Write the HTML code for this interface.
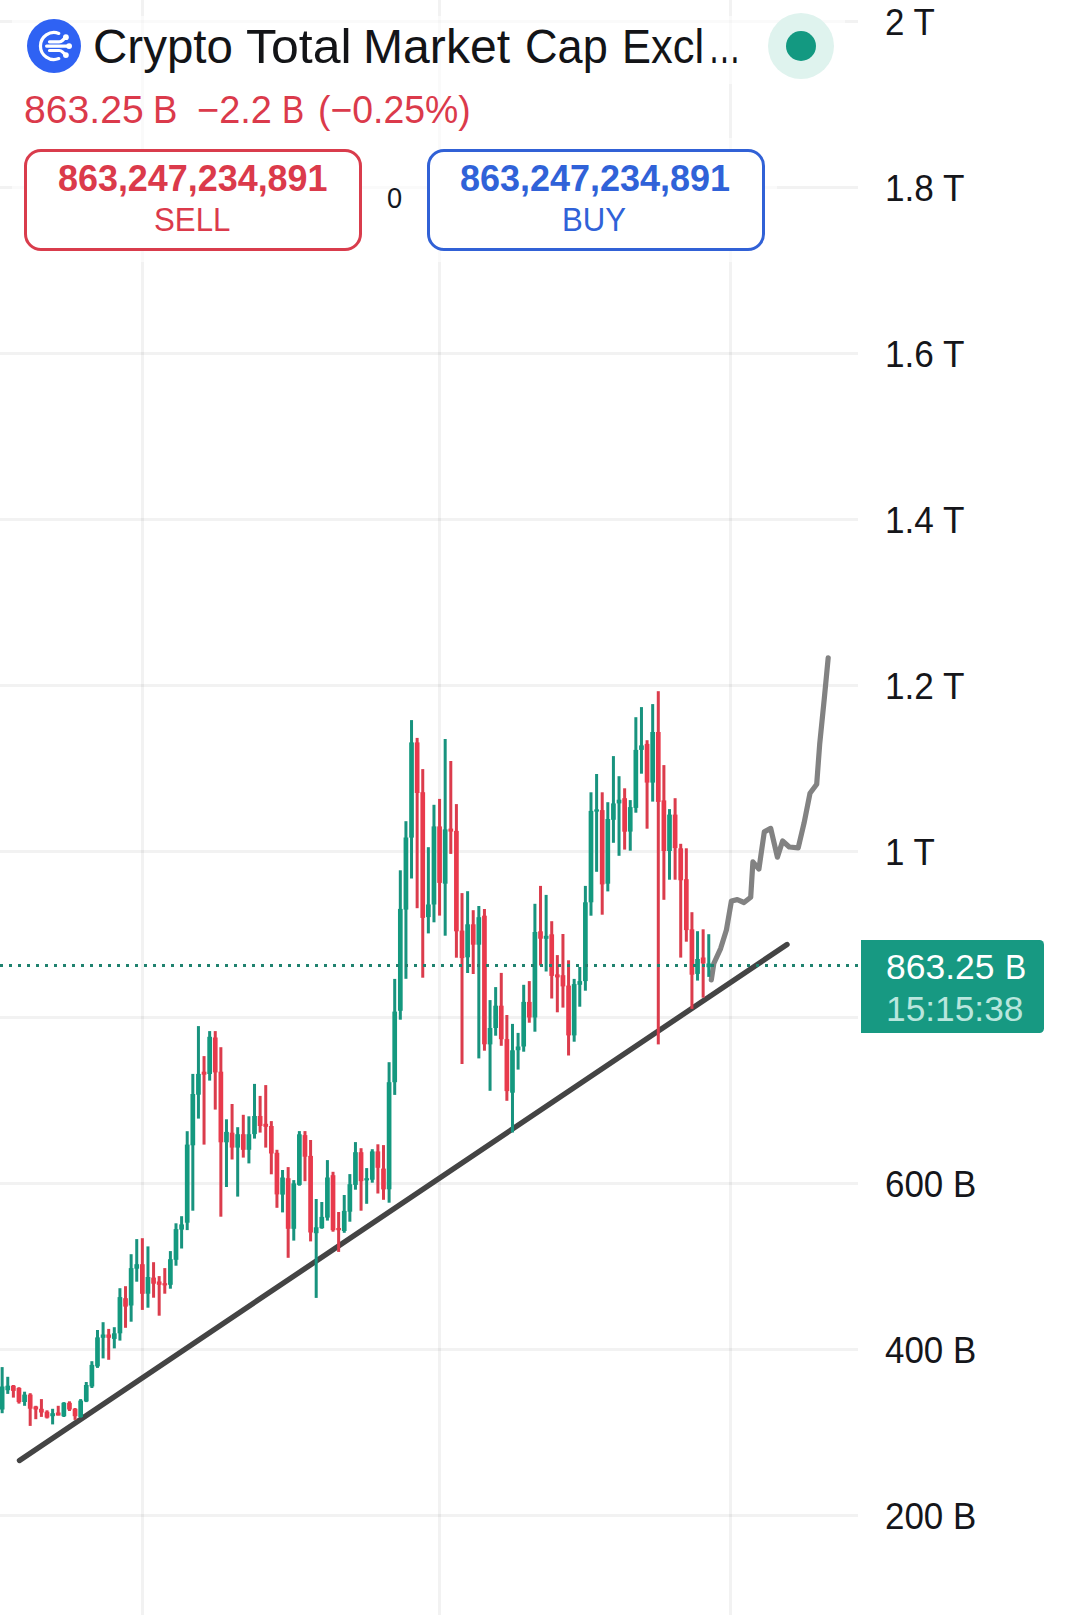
<!DOCTYPE html>
<html><head><meta charset="utf-8"><title>Crypto Total Market Cap</title>
<style>
html,body{margin:0;padding:0;background:#fff;}
body{width:1076px;height:1615px;position:relative;overflow:hidden;font-family:"Liberation Sans",sans-serif;color:#131722;}
svg.chart{position:absolute;left:0;top:0;}
.t{position:absolute;display:block;white-space:nowrap;line-height:1;}
.btn{position:absolute;top:149px;height:102px;width:338px;border:3px solid;border-radius:17px;box-sizing:border-box;background:#fff;}
.sell{left:24px;border-color:#d93c4c;}
.buy{left:427px;border-color:#3161d6;}
.ov{position:absolute;background:rgba(255,255,255,0.6);}
.plabel{position:absolute;left:861px;top:939.7px;width:182.8px;height:93.1px;background:#179982;border-radius:0 4.5px 4.5px 0;}
.dotc{position:absolute;left:768.3px;top:12.5px;width:66px;height:66px;border-radius:50%;background:#dff3ee;}
.dotc i{position:absolute;left:18px;top:18.4px;width:30px;height:30px;border-radius:50%;background:#139981;}
</style></head><body>
<svg class="chart" width="1076" height="1615" viewBox="0 0 1076 1615">
<rect x="0" y="20.0" width="858" height="3" fill="#000" fill-opacity="0.05"/>
<rect x="0" y="186.0" width="858" height="3" fill="#000" fill-opacity="0.05"/>
<rect x="0" y="352.0" width="858" height="3" fill="#000" fill-opacity="0.05"/>
<rect x="0" y="518.0" width="858" height="3" fill="#000" fill-opacity="0.05"/>
<rect x="0" y="684.0" width="858" height="3" fill="#000" fill-opacity="0.05"/>
<rect x="0" y="850.0" width="858" height="3" fill="#000" fill-opacity="0.05"/>
<rect x="0" y="1016.0" width="858" height="3" fill="#000" fill-opacity="0.05"/>
<rect x="0" y="1182.0" width="858" height="3" fill="#000" fill-opacity="0.05"/>
<rect x="0" y="1348.0" width="858" height="3" fill="#000" fill-opacity="0.05"/>
<rect x="0" y="1514.0" width="858" height="3" fill="#000" fill-opacity="0.05"/>
<rect x="141.0" y="0" width="3" height="1615" fill="#000" fill-opacity="0.05"/>
<rect x="438.0" y="0" width="3" height="1615" fill="#000" fill-opacity="0.05"/>
<rect x="729.0" y="0" width="3" height="1615" fill="#000" fill-opacity="0.05"/>

<line x1="19.5" y1="1460.5" x2="787" y2="944.5" stroke="#444444" stroke-width="5.4" stroke-linecap="round"/>
<path d="M711.3,979.9 L713.8,963.5 L720.6,948.6 L726.4,930 L731.4,901 L737.3,899.6 L744,902.5 L750.7,897.3 L752.9,861.9 L758.9,869.1 L764.3,831.9 L770.7,828.4 L777.4,857.2 L782.6,841 L789.3,847 L798.2,847.8 L804.1,822.9 L810,793.2 L816.7,784.2 L819.7,744.1 L824.2,699.5 L828.2,657.8" fill="none" stroke="#828282" stroke-width="5.2" stroke-linecap="round" stroke-linejoin="round"/>
<g>
<rect x="0.65" y="1367.1" width="3.0" height="46.1" fill="#18937e"/>
<rect x="6.26" y="1376.8" width="3.0" height="17.1" fill="#18937e"/>
<rect x="11.87" y="1385.0" width="3.0" height="12.6" fill="#db3c4c"/>
<rect x="17.47" y="1387.2" width="3.0" height="16.4" fill="#db3c4c"/>
<rect x="23.08" y="1391.7" width="3.0" height="14.1" fill="#18937e"/>
<rect x="28.69" y="1393.2" width="3.0" height="32.7" fill="#db3c4c"/>
<rect x="34.30" y="1405.8" width="3.0" height="13.4" fill="#db3c4c"/>
<rect x="39.91" y="1399.1" width="3.0" height="17.8" fill="#db3c4c"/>
<rect x="45.51" y="1410.3" width="3.0" height="8.2" fill="#db3c4c"/>
<rect x="51.12" y="1408.8" width="3.0" height="15.6" fill="#18937e"/>
<rect x="56.73" y="1405.8" width="3.0" height="9.7" fill="#db3c4c"/>
<rect x="62.34" y="1402.1" width="3.0" height="14.9" fill="#18937e"/>
<rect x="67.95" y="1401.3" width="3.0" height="9.7" fill="#db3c4c"/>
<rect x="73.55" y="1408.0" width="3.0" height="11.9" fill="#db3c4c"/>
<rect x="79.16" y="1399.1" width="3.0" height="18.6" fill="#18937e"/>
<rect x="84.77" y="1382.0" width="3.0" height="20.1" fill="#18937e"/>
<rect x="90.38" y="1361.2" width="3.0" height="26.8" fill="#18937e"/>
<rect x="95.99" y="1330.0" width="3.0" height="37.9" fill="#18937e"/>
<rect x="101.59" y="1322.2" width="3.0" height="36.2" fill="#18937e"/>
<rect x="107.20" y="1328.9" width="3.0" height="30.9" fill="#db3c4c"/>
<rect x="112.81" y="1327.2" width="3.0" height="21.2" fill="#18937e"/>
<rect x="118.42" y="1288.2" width="3.0" height="52.4" fill="#18937e"/>
<rect x="124.03" y="1286.2" width="3.0" height="41.6" fill="#db3c4c"/>
<rect x="129.63" y="1254.2" width="3.0" height="67.5" fill="#18937e"/>
<rect x="135.24" y="1239.1" width="3.0" height="42.6" fill="#18937e"/>
<rect x="140.85" y="1238.2" width="3.0" height="71.7" fill="#db3c4c"/>
<rect x="146.46" y="1246.4" width="3.0" height="61.3" fill="#18937e"/>
<rect x="152.07" y="1262.2" width="3.0" height="35.5" fill="#db3c4c"/>
<rect x="157.67" y="1276.1" width="3.0" height="39.6" fill="#db3c4c"/>
<rect x="163.28" y="1268.1" width="3.0" height="25.6" fill="#db3c4c"/>
<rect x="168.89" y="1251.1" width="3.0" height="37.6" fill="#18937e"/>
<rect x="174.50" y="1223.3" width="3.0" height="42.4" fill="#18937e"/>
<rect x="180.11" y="1216.2" width="3.0" height="32.3" fill="#18937e"/>
<rect x="185.71" y="1131.2" width="3.0" height="98.9" fill="#18937e"/>
<rect x="191.32" y="1073.9" width="3.0" height="136.8" fill="#18937e"/>
<rect x="196.93" y="1026.1" width="3.0" height="92.5" fill="#18937e"/>
<rect x="202.54" y="1056.1" width="3.0" height="88.5" fill="#db3c4c"/>
<rect x="208.15" y="1031.1" width="3.0" height="49.5" fill="#18937e"/>
<rect x="213.75" y="1031.1" width="3.0" height="78.5" fill="#db3c4c"/>
<rect x="219.36" y="1047.2" width="3.0" height="169.5" fill="#db3c4c"/>
<rect x="224.97" y="1119.3" width="3.0" height="67.7" fill="#18937e"/>
<rect x="230.58" y="1104.0" width="3.0" height="55.5" fill="#db3c4c"/>
<rect x="236.19" y="1127.2" width="3.0" height="69.4" fill="#18937e"/>
<rect x="241.79" y="1114.8" width="3.0" height="42.8" fill="#db3c4c"/>
<rect x="247.40" y="1116.3" width="3.0" height="47.1" fill="#18937e"/>
<rect x="253.01" y="1083.9" width="3.0" height="54.7" fill="#18937e"/>
<rect x="258.62" y="1095.9" width="3.0" height="36.7" fill="#db3c4c"/>
<rect x="264.23" y="1085.1" width="3.0" height="62.5" fill="#db3c4c"/>
<rect x="269.83" y="1121.1" width="3.0" height="53.2" fill="#db3c4c"/>
<rect x="275.44" y="1149.8" width="3.0" height="58.0" fill="#db3c4c"/>
<rect x="281.05" y="1170.0" width="3.0" height="42.4" fill="#18937e"/>
<rect x="286.66" y="1167.1" width="3.0" height="90.7" fill="#db3c4c"/>
<rect x="292.27" y="1180.1" width="3.0" height="60.5" fill="#18937e"/>
<rect x="297.87" y="1131.1" width="3.0" height="54.6" fill="#18937e"/>
<rect x="303.48" y="1131.1" width="3.0" height="50.1" fill="#db3c4c"/>
<rect x="309.09" y="1140.0" width="3.0" height="101.4" fill="#db3c4c"/>
<rect x="314.70" y="1199.0" width="3.0" height="98.9" fill="#18937e"/>
<rect x="320.31" y="1202.0" width="3.0" height="26.8" fill="#18937e"/>
<rect x="325.91" y="1160.1" width="3.0" height="60.5" fill="#18937e"/>
<rect x="331.52" y="1171.8" width="3.0" height="59.9" fill="#db3c4c"/>
<rect x="337.13" y="1212.0" width="3.0" height="39.9" fill="#db3c4c"/>
<rect x="342.74" y="1195.0" width="3.0" height="37.8" fill="#18937e"/>
<rect x="348.35" y="1174.1" width="3.0" height="47.6" fill="#18937e"/>
<rect x="353.95" y="1142.1" width="3.0" height="47.6" fill="#18937e"/>
<rect x="359.56" y="1148.2" width="3.0" height="62.5" fill="#db3c4c"/>
<rect x="365.17" y="1168.1" width="3.0" height="35.7" fill="#18937e"/>
<rect x="370.78" y="1149.2" width="3.0" height="33.5" fill="#18937e"/>
<rect x="376.39" y="1144.3" width="3.0" height="49.2" fill="#db3c4c"/>
<rect x="381.99" y="1145.1" width="3.0" height="54.7" fill="#db3c4c"/>
<rect x="387.60" y="1062.2" width="3.0" height="140.5" fill="#18937e"/>
<rect x="393.21" y="978.9" width="3.0" height="116.0" fill="#18937e"/>
<rect x="398.82" y="870.3" width="3.0" height="149.4" fill="#18937e"/>
<rect x="404.43" y="821.2" width="3.0" height="157.6" fill="#18937e"/>
<rect x="410.03" y="720.1" width="3.0" height="158.4" fill="#18937e"/>
<rect x="415.64" y="737.9" width="3.0" height="170.3" fill="#db3c4c"/>
<rect x="421.25" y="769.1" width="3.0" height="208.6" fill="#db3c4c"/>
<rect x="426.86" y="847.2" width="3.0" height="86.2" fill="#18937e"/>
<rect x="432.47" y="804.8" width="3.0" height="117.5" fill="#18937e"/>
<rect x="438.07" y="798.9" width="3.0" height="116.7" fill="#db3c4c"/>
<rect x="443.68" y="739.0" width="3.0" height="196.7" fill="#18937e"/>
<rect x="449.29" y="761.0" width="3.0" height="92.9" fill="#db3c4c"/>
<rect x="454.90" y="804.1" width="3.0" height="153.6" fill="#db3c4c"/>
<rect x="460.51" y="893.1" width="3.0" height="170.9" fill="#db3c4c"/>
<rect x="466.11" y="891.2" width="3.0" height="81.8" fill="#18937e"/>
<rect x="471.72" y="910.2" width="3.0" height="63.8" fill="#db3c4c"/>
<rect x="477.33" y="906.0" width="3.0" height="152.4" fill="#18937e"/>
<rect x="482.94" y="909.0" width="3.0" height="141.7" fill="#db3c4c"/>
<rect x="488.55" y="1000.1" width="3.0" height="90.7" fill="#18937e"/>
<rect x="494.15" y="987.1" width="3.0" height="48.6" fill="#18937e"/>
<rect x="499.76" y="972.9" width="3.0" height="72.9" fill="#db3c4c"/>
<rect x="505.37" y="1015.0" width="3.0" height="85.8" fill="#db3c4c"/>
<rect x="510.98" y="1023.9" width="3.0" height="108.6" fill="#18937e"/>
<rect x="516.59" y="1032.9" width="3.0" height="36.7" fill="#18937e"/>
<rect x="522.19" y="984.8" width="3.0" height="66.9" fill="#18937e"/>
<rect x="527.80" y="981.1" width="3.0" height="41.6" fill="#db3c4c"/>
<rect x="533.41" y="903.8" width="3.0" height="127.9" fill="#18937e"/>
<rect x="539.02" y="885.9" width="3.0" height="79.6" fill="#db3c4c"/>
<rect x="544.63" y="894.9" width="3.0" height="76.6" fill="#18937e"/>
<rect x="550.23" y="921.2" width="3.0" height="77.3" fill="#db3c4c"/>
<rect x="555.84" y="955.1" width="3.0" height="57.2" fill="#db3c4c"/>
<rect x="561.45" y="934.0" width="3.0" height="73.6" fill="#db3c4c"/>
<rect x="567.06" y="960.3" width="3.0" height="95.2" fill="#db3c4c"/>
<rect x="572.67" y="978.9" width="3.0" height="62.8" fill="#18937e"/>
<rect x="578.27" y="967.0" width="3.0" height="39.7" fill="#18937e"/>
<rect x="583.88" y="885.9" width="3.0" height="104.8" fill="#18937e"/>
<rect x="589.49" y="792.3" width="3.0" height="123.4" fill="#18937e"/>
<rect x="595.10" y="774.0" width="3.0" height="97.8" fill="#18937e"/>
<rect x="600.71" y="792.3" width="3.0" height="122.4" fill="#db3c4c"/>
<rect x="606.31" y="802.2" width="3.0" height="89.2" fill="#18937e"/>
<rect x="611.92" y="756.1" width="3.0" height="86.7" fill="#18937e"/>
<rect x="617.53" y="776.2" width="3.0" height="79.6" fill="#18937e"/>
<rect x="623.14" y="788.3" width="3.0" height="61.3" fill="#db3c4c"/>
<rect x="628.75" y="800.1" width="3.0" height="50.6" fill="#18937e"/>
<rect x="634.35" y="717.2" width="3.0" height="95.5" fill="#18937e"/>
<rect x="639.96" y="707.1" width="3.0" height="66.6" fill="#18937e"/>
<rect x="645.57" y="740.2" width="3.0" height="88.5" fill="#db3c4c"/>
<rect x="651.18" y="704.1" width="3.0" height="97.5" fill="#18937e"/>
<rect x="656.79" y="691.2" width="3.0" height="353.2" fill="#db3c4c"/>
<rect x="662.39" y="765.1" width="3.0" height="134.7" fill="#db3c4c"/>
<rect x="668.00" y="809.1" width="3.0" height="70.6" fill="#18937e"/>
<rect x="673.61" y="798.2" width="3.0" height="81.5" fill="#db3c4c"/>
<rect x="679.22" y="843.8" width="3.0" height="113.8" fill="#db3c4c"/>
<rect x="684.83" y="848.3" width="3.0" height="93.4" fill="#db3c4c"/>
<rect x="690.43" y="912.2" width="3.0" height="96.7" fill="#db3c4c"/>
<rect x="696.04" y="931.2" width="3.0" height="49.4" fill="#18937e"/>
<rect x="701.65" y="929.3" width="3.0" height="68.4" fill="#db3c4c"/>
<rect x="707.26" y="934.2" width="3.0" height="42.7" fill="#18937e"/>
<rect x="-0.20" y="1386.5" width="4.7" height="23.0" fill="#14997f"/>
<rect x="5.41" y="1385.7" width="4.7" height="4.5" fill="#14997f"/>
<rect x="11.02" y="1385.7" width="4.7" height="5.2" fill="#e83a4c"/>
<rect x="16.62" y="1388.0" width="4.7" height="14.1" fill="#e83a4c"/>
<rect x="22.23" y="1394.6" width="4.7" height="7.4" fill="#14997f"/>
<rect x="27.84" y="1394.6" width="4.7" height="14.1" fill="#e83a4c"/>
<rect x="33.45" y="1406.5" width="4.7" height="3.0" fill="#e83a4c"/>
<rect x="39.06" y="1408.8" width="4.7" height="3.7" fill="#e83a4c"/>
<rect x="44.66" y="1411.7" width="4.7" height="5.9" fill="#e83a4c"/>
<rect x="50.27" y="1413.2" width="4.7" height="3.0" fill="#14997f"/>
<rect x="55.88" y="1412.5" width="4.7" height="3.0" fill="#e83a4c"/>
<rect x="61.49" y="1402.8" width="4.7" height="13.4" fill="#14997f"/>
<rect x="67.10" y="1402.8" width="4.7" height="6.7" fill="#e83a4c"/>
<rect x="72.70" y="1408.8" width="4.7" height="7.4" fill="#e83a4c"/>
<rect x="78.31" y="1400.6" width="4.7" height="16.4" fill="#14997f"/>
<rect x="83.92" y="1385.0" width="4.7" height="16.4" fill="#14997f"/>
<rect x="89.53" y="1364.9" width="4.7" height="21.6" fill="#14997f"/>
<rect x="95.14" y="1337.4" width="4.7" height="29.0" fill="#14997f"/>
<rect x="100.74" y="1334.5" width="4.7" height="3.3" fill="#14997f"/>
<rect x="106.35" y="1334.5" width="4.7" height="3.3" fill="#e83a4c"/>
<rect x="111.96" y="1333.3" width="4.7" height="5.6" fill="#14997f"/>
<rect x="117.57" y="1297.1" width="4.7" height="36.2" fill="#14997f"/>
<rect x="123.18" y="1298.2" width="4.7" height="8.4" fill="#e83a4c"/>
<rect x="128.78" y="1268.1" width="4.7" height="37.4" fill="#14997f"/>
<rect x="134.39" y="1264.2" width="4.7" height="4.5" fill="#14997f"/>
<rect x="140.00" y="1264.2" width="4.7" height="29.6" fill="#e83a4c"/>
<rect x="145.61" y="1277.0" width="4.7" height="16.7" fill="#14997f"/>
<rect x="151.22" y="1277.6" width="4.7" height="6.1" fill="#e83a4c"/>
<rect x="156.82" y="1281.5" width="4.7" height="3.3" fill="#e83a4c"/>
<rect x="162.43" y="1283.2" width="4.7" height="2.2" fill="#e83a4c"/>
<rect x="168.04" y="1259.2" width="4.7" height="25.6" fill="#14997f"/>
<rect x="173.65" y="1229.1" width="4.7" height="30.7" fill="#14997f"/>
<rect x="179.26" y="1224.4" width="4.7" height="5.2" fill="#14997f"/>
<rect x="184.86" y="1144.6" width="4.7" height="78.1" fill="#14997f"/>
<rect x="190.47" y="1094.0" width="4.7" height="51.3" fill="#14997f"/>
<rect x="196.08" y="1073.9" width="4.7" height="20.8" fill="#14997f"/>
<rect x="201.69" y="1071.7" width="4.7" height="3.0" fill="#e83a4c"/>
<rect x="207.30" y="1036.8" width="4.7" height="37.2" fill="#14997f"/>
<rect x="212.90" y="1037.5" width="4.7" height="34.9" fill="#e83a4c"/>
<rect x="218.51" y="1071.7" width="4.7" height="70.6" fill="#e83a4c"/>
<rect x="224.12" y="1131.9" width="4.7" height="10.4" fill="#14997f"/>
<rect x="229.73" y="1132.7" width="4.7" height="14.9" fill="#e83a4c"/>
<rect x="235.34" y="1134.2" width="4.7" height="13.4" fill="#14997f"/>
<rect x="240.94" y="1134.2" width="4.7" height="15.6" fill="#e83a4c"/>
<rect x="246.55" y="1134.2" width="4.7" height="15.6" fill="#14997f"/>
<rect x="252.16" y="1116.0" width="4.7" height="18.1" fill="#14997f"/>
<rect x="257.77" y="1116.0" width="4.7" height="10.0" fill="#e83a4c"/>
<rect x="263.38" y="1123.8" width="4.7" height="3.0" fill="#e83a4c"/>
<rect x="268.98" y="1126.0" width="4.7" height="27.5" fill="#e83a4c"/>
<rect x="274.59" y="1152.8" width="4.7" height="41.6" fill="#e83a4c"/>
<rect x="280.20" y="1177.5" width="4.7" height="17.1" fill="#14997f"/>
<rect x="285.81" y="1178.2" width="4.7" height="50.6" fill="#e83a4c"/>
<rect x="291.42" y="1183.4" width="4.7" height="45.4" fill="#14997f"/>
<rect x="297.02" y="1134.3" width="4.7" height="50.6" fill="#14997f"/>
<rect x="302.63" y="1135.1" width="4.7" height="21.6" fill="#e83a4c"/>
<rect x="308.24" y="1155.9" width="4.7" height="76.6" fill="#e83a4c"/>
<rect x="313.85" y="1227.3" width="4.7" height="5.9" fill="#14997f"/>
<rect x="319.46" y="1216.9" width="4.7" height="11.2" fill="#14997f"/>
<rect x="325.06" y="1177.5" width="4.7" height="40.1" fill="#14997f"/>
<rect x="330.67" y="1175.2" width="4.7" height="55.0" fill="#e83a4c"/>
<rect x="336.28" y="1228.0" width="4.7" height="2.2" fill="#e83a4c"/>
<rect x="341.89" y="1210.9" width="4.7" height="20.1" fill="#14997f"/>
<rect x="347.50" y="1184.2" width="4.7" height="27.5" fill="#14997f"/>
<rect x="353.10" y="1152.2" width="4.7" height="32.7" fill="#14997f"/>
<rect x="358.71" y="1152.2" width="4.7" height="29.0" fill="#e83a4c"/>
<rect x="364.32" y="1178.2" width="4.7" height="2.2" fill="#14997f"/>
<rect x="369.93" y="1151.4" width="4.7" height="28.3" fill="#14997f"/>
<rect x="375.54" y="1151.4" width="4.7" height="16.4" fill="#e83a4c"/>
<rect x="381.14" y="1168.6" width="4.7" height="20.8" fill="#e83a4c"/>
<rect x="386.75" y="1082.2" width="4.7" height="107.1" fill="#14997f"/>
<rect x="392.36" y="1011.6" width="4.7" height="70.6" fill="#14997f"/>
<rect x="397.97" y="908.9" width="4.7" height="101.9" fill="#14997f"/>
<rect x="403.58" y="837.5" width="4.7" height="72.1" fill="#14997f"/>
<rect x="409.18" y="742.4" width="4.7" height="95.2" fill="#14997f"/>
<rect x="414.79" y="742.4" width="4.7" height="50.6" fill="#e83a4c"/>
<rect x="420.40" y="792.2" width="4.7" height="125.7" fill="#e83a4c"/>
<rect x="426.01" y="904.5" width="4.7" height="12.6" fill="#14997f"/>
<rect x="431.62" y="826.4" width="4.7" height="78.1" fill="#14997f"/>
<rect x="437.22" y="826.4" width="4.7" height="56.5" fill="#e83a4c"/>
<rect x="442.83" y="829.4" width="4.7" height="54.3" fill="#14997f"/>
<rect x="448.44" y="828.6" width="4.7" height="3.0" fill="#e83a4c"/>
<rect x="454.05" y="830.9" width="4.7" height="100.4" fill="#e83a4c"/>
<rect x="459.66" y="930.6" width="4.7" height="27.5" fill="#e83a4c"/>
<rect x="465.26" y="924.3" width="4.7" height="33.0" fill="#14997f"/>
<rect x="470.87" y="924.3" width="4.7" height="20.4" fill="#e83a4c"/>
<rect x="476.48" y="917.2" width="4.7" height="27.5" fill="#14997f"/>
<rect x="482.09" y="915.7" width="4.7" height="128.6" fill="#e83a4c"/>
<rect x="487.70" y="1028.0" width="4.7" height="16.4" fill="#14997f"/>
<rect x="493.30" y="1005.7" width="4.7" height="22.3" fill="#14997f"/>
<rect x="498.91" y="1005.7" width="4.7" height="33.5" fill="#e83a4c"/>
<rect x="504.52" y="1039.1" width="4.7" height="52.0" fill="#e83a4c"/>
<rect x="510.13" y="1050.3" width="4.7" height="42.4" fill="#14997f"/>
<rect x="515.74" y="1046.5" width="4.7" height="3.7" fill="#14997f"/>
<rect x="521.34" y="1001.9" width="4.7" height="44.6" fill="#14997f"/>
<rect x="526.95" y="1001.9" width="4.7" height="15.6" fill="#e83a4c"/>
<rect x="532.56" y="932.0" width="4.7" height="85.5" fill="#14997f"/>
<rect x="538.17" y="931.3" width="4.7" height="7.4" fill="#e83a4c"/>
<rect x="543.78" y="935.8" width="4.7" height="3.0" fill="#14997f"/>
<rect x="549.38" y="934.3" width="4.7" height="41.6" fill="#e83a4c"/>
<rect x="554.99" y="974.4" width="4.7" height="3.0" fill="#e83a4c"/>
<rect x="560.60" y="975.2" width="4.7" height="11.2" fill="#e83a4c"/>
<rect x="566.21" y="985.6" width="4.7" height="49.8" fill="#e83a4c"/>
<rect x="571.82" y="984.1" width="4.7" height="51.3" fill="#14997f"/>
<rect x="577.42" y="981.1" width="4.7" height="3.7" fill="#14997f"/>
<rect x="583.03" y="902.3" width="4.7" height="78.8" fill="#14997f"/>
<rect x="588.64" y="810.9" width="4.7" height="91.4" fill="#14997f"/>
<rect x="594.25" y="809.4" width="4.7" height="2.2" fill="#14997f"/>
<rect x="599.86" y="810.1" width="4.7" height="74.3" fill="#e83a4c"/>
<rect x="605.46" y="819.0" width="4.7" height="64.7" fill="#14997f"/>
<rect x="611.07" y="803.4" width="4.7" height="16.4" fill="#14997f"/>
<rect x="616.68" y="799.7" width="4.7" height="3.7" fill="#14997f"/>
<rect x="622.29" y="798.2" width="4.7" height="33.5" fill="#e83a4c"/>
<rect x="627.90" y="807.1" width="4.7" height="24.5" fill="#14997f"/>
<rect x="633.50" y="749.9" width="4.7" height="58.0" fill="#14997f"/>
<rect x="639.11" y="745.4" width="4.7" height="4.5" fill="#14997f"/>
<rect x="644.72" y="743.9" width="4.7" height="38.7" fill="#e83a4c"/>
<rect x="650.33" y="732.0" width="4.7" height="50.6" fill="#14997f"/>
<rect x="655.94" y="732.0" width="4.7" height="69.9" fill="#e83a4c"/>
<rect x="661.54" y="800.4" width="4.7" height="50.6" fill="#e83a4c"/>
<rect x="667.15" y="814.6" width="4.7" height="36.4" fill="#14997f"/>
<rect x="672.76" y="814.6" width="4.7" height="33.5" fill="#e83a4c"/>
<rect x="678.37" y="848.3" width="4.7" height="32.0" fill="#e83a4c"/>
<rect x="683.98" y="879.2" width="4.7" height="50.9" fill="#e83a4c"/>
<rect x="689.58" y="929.3" width="4.7" height="45.4" fill="#e83a4c"/>
<rect x="695.19" y="959.0" width="4.7" height="14.9" fill="#14997f"/>
<rect x="700.80" y="957.5" width="4.7" height="5.9" fill="#e83a4c"/>
<rect x="706.41" y="963.5" width="4.7" height="3.7" fill="#14997f"/>
</g>
<line x1="0" y1="965.5" x2="861" y2="965.5" stroke="#1f826f" stroke-width="3" stroke-dasharray="3 6"/>
</svg>
<div class="ov" style="left:12px;top:16px;width:833px;height:68px"></div><div class="ov" style="left:12px;top:84px;width:469px;height:53.5px"></div><div class="ov" style="left:12px;top:137.5px;width:765px;height:124.5px"></div>
<div class="plabel"></div>
<svg style="position:absolute;left:27px;top:18.8px" width="54" height="54" viewBox="0 0 54 54">
<circle cx="27" cy="27" r="27" fill="#2f62f3"/>
<g fill="none" stroke="#fff" stroke-width="3.2" stroke-linecap="round" stroke-linejoin="round">
<path d="M31.8 14.4 A13.5 13.5 0 1 0 31.8 39.6"/>
<path d="M19.6 27.1 H41"/>
<path d="M22.5 22.8 H32.2 Q34 22.8 35.4 21.5 L38.6 18.4"/>
<path d="M22.5 31.5 H32.2 Q34 31.5 35.4 32.8 L38.6 35.9"/>
</g>
<circle cx="42.1" cy="27.1" r="2.9" fill="#fff"/><circle cx="38.9" cy="18.2" r="2.9" fill="#fff"/><circle cx="38.9" cy="36.1" r="2.9" fill="#fff"/>
</svg>
<div class="dotc"><i></i></div>
<div class="btn sell"></div>
<div class="btn buy"></div>
<span class="t" style="left:93.17px;top:24.16px;font-size:46px;color:#131417;transform-origin:0 38.94px;transform:scale(1.0330,1.0300)">Crypto</span>
<span class="t" style="left:246.12px;top:24.16px;font-size:46px;color:#131417;transform-origin:0 38.94px;transform:scale(1.0865,1.0300)">Total</span>
<span class="t" style="left:363.04px;top:24.16px;font-size:46px;color:#131417;transform-origin:0 38.94px;transform:scale(1.0463,1.0300)">Market</span>
<span class="t" style="left:525.09px;top:24.16px;font-size:46px;color:#131417;transform-origin:0 38.94px;transform:scale(0.9805,1.0300)">Cap</span>
<span class="t" style="left:622.01px;top:24.16px;font-size:46px;color:#131417;transform-origin:0 38.94px;transform:scale(0.9442,1.0300)">Excl</span>
<span class="t" style="left:707.88px;top:18.24px;font-size:53px;color:#131417;transform-origin:0 44.86px;transform:scale(0.6214,1.0000)">…</span>
<span class="t" style="left:24.48px;top:91.68px;font-size:37px;color:#db3a4b;transform-origin:0 31.32px;transform:scale(1.0578,1.0350)">863.25</span>
<span class="t" style="left:153.14px;top:91.68px;font-size:37px;color:#db3a4b;transform-origin:0 31.32px;transform:scale(0.9884,1.0350)">B</span>
<span class="t" style="left:197.22px;top:91.68px;font-size:37px;color:#db3a4b;transform-origin:0 31.32px;transform:scale(1.0257,1.0350)">−2.2</span>
<span class="t" style="left:281.90px;top:91.68px;font-size:37px;color:#db3a4b;transform-origin:0 31.32px;transform:scale(0.8995,1.0350)">B</span>
<span class="t" style="left:317.65px;top:91.68px;font-size:37px;color:#db3a4b;transform-origin:0 31.32px;transform:scale(1.0108,1.0350)">(−0.25%)</span>
<span class="t" style="left:57.58px;top:162.25px;font-size:35.5px;font-weight:bold;color:#db3a4b;transform-origin:0 30.05px;transform:scale(1.0113,1.0176)">863,247,234,891</span>
<span class="t" style="left:154.32px;top:204.96px;font-size:31px;color:#db3a4b;transform-origin:0 26.24px;transform:scale(1.0082,1.0600)">SELL</span>
<span class="t" style="left:386.95px;top:184.90px;font-size:28px;color:#131722;transform-origin:0 23.70px;transform:scale(0.9714,1.0362)">0</span>
<span class="t" style="left:459.78px;top:162.25px;font-size:35.5px;font-weight:bold;color:#3062d8;transform-origin:0 30.05px;transform:scale(1.0135,1.0176)">863,247,234,891</span>
<span class="t" style="left:561.87px;top:204.96px;font-size:31px;color:#3062d8;transform-origin:0 26.24px;transform:scale(1.0052,1.0600)">BUY</span>
<span class="t" style="left:885.59px;top:949.92px;font-size:34px;color:#ffffff;transform-origin:0 28.78px;transform:scale(1.0438,1.0416)">863.25</span>
<span class="t" style="left:1004.71px;top:949.92px;font-size:34px;color:#ffffff;transform-origin:0 28.78px;transform:scale(0.9358,1.0416)">B</span>
<span class="t" style="left:886.39px;top:992.32px;font-size:34px;color:#b9e6dd;transform-origin:0 28.78px;transform:scale(1.0385,1.0123)">15:15:38</span>
<span class="t" style="left:885.06px;top:5.92px;font-size:34px;color:#15161a;transform-origin:0 28.78px;transform:scale(1.0266,1.0667)">2 T</span>
<span class="t" style="left:885.20px;top:171.92px;font-size:34px;color:#15161a;transform-origin:0 28.78px;transform:scale(1.0338,1.0667)">1.8 T</span>
<span class="t" style="left:885.20px;top:337.92px;font-size:34px;color:#15161a;transform-origin:0 28.78px;transform:scale(1.0338,1.0667)">1.6 T</span>
<span class="t" style="left:885.20px;top:503.92px;font-size:34px;color:#15161a;transform-origin:0 28.78px;transform:scale(1.0338,1.0667)">1.4 T</span>
<span class="t" style="left:885.20px;top:669.92px;font-size:34px;color:#15161a;transform-origin:0 28.78px;transform:scale(1.0338,1.0667)">1.2 T</span>
<span class="t" style="left:885.22px;top:835.92px;font-size:34px;color:#15161a;transform-origin:0 28.78px;transform:scale(1.0276,1.0667)">1 T</span>
<span class="t" style="left:885.26px;top:1167.92px;font-size:34px;color:#15161a;transform-origin:0 28.78px;transform:scale(1.0276,1.0667)">600 B</span>
<span class="t" style="left:885.26px;top:1333.92px;font-size:34px;color:#15161a;transform-origin:0 28.78px;transform:scale(1.0276,1.0667)">400 B</span>
<span class="t" style="left:885.26px;top:1499.92px;font-size:34px;color:#15161a;transform-origin:0 28.78px;transform:scale(1.0276,1.0667)">200 B</span>

</body></html>
